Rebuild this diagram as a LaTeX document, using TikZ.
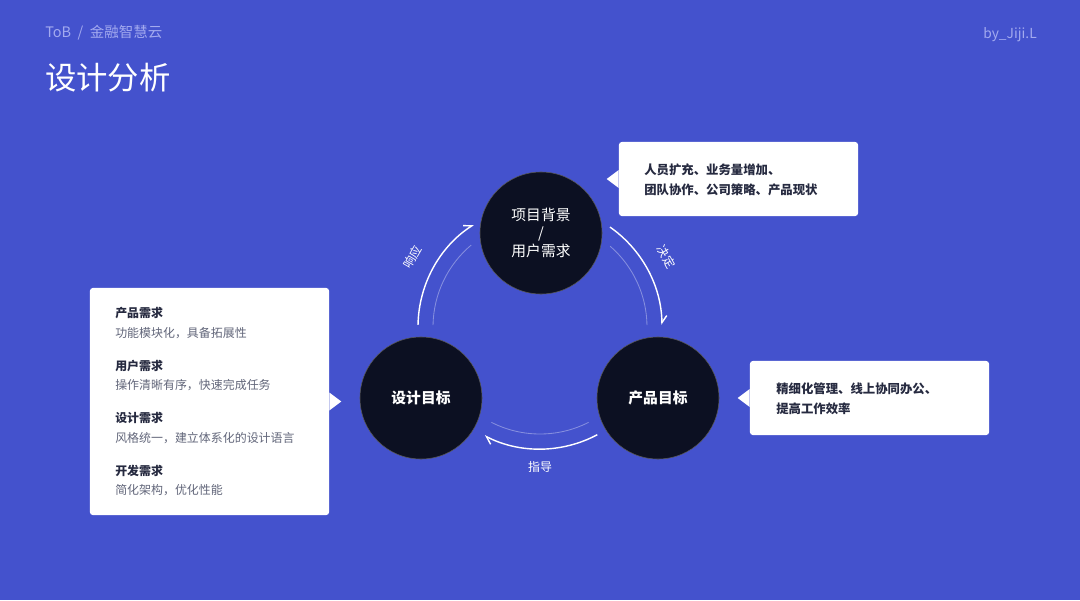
\documentclass[tikz,border=0pt]{standalone}
\usepackage{fontspec}
\setmainfont{Noto Sans CJK SC}
\usepackage{xcolor}
\usetikzlibrary{arrows.meta,positioning}

\definecolor{bgblue}{HTML}{4452CD}
\definecolor{hubdark}{HTML}{0C1022}
\definecolor{inkdark}{HTML}{262A40}
\definecolor{inkgray}{HTML}{62667A}
\definecolor{paleblue}{HTML}{A3AAEF}

\begin{document}
\begin{tikzpicture}[
  x=0.025cm, y=-0.025cm,
  every node/.style={inner sep=0pt},
  hub/.style={circle, draw=gray!70!black, line width=0.4pt, fill=hubdark, minimum size=3.05cm, text=white, align=center, font=\fontsize{10.5}{12.8}\selectfont},
  card/.style={fill=white, rounded corners=2pt},
  flow/.style={white, line width=1pt, -{Straight Barb[harpoon, length=5pt, width=7pt]}},
  ghost/.style={white, opacity=0.35, line width=0.6pt},
  tag/.style={text=white, font=\fontsize{8.5}{10}\selectfont},
  head/.style={anchor=west, text=inkdark, font=\fontsize{8.5}{10}\selectfont\bfseries},
  desc/.style={anchor=west, text=inkgray, font=\fontsize{8.5}{10}\selectfont}
]
\fill[bgblue] (0,0) rectangle (1080,600);
\useasboundingbox (0,0) rectangle (1080,600);

% header
\node[anchor=west, text=paleblue, font=\fontsize{10.3}{12}\selectfont] (crumb) at (45,33) {ToB\ \ /\ \ 金融智慧云};
\node[anchor=west, text=white, font=\fontsize{22.3}{26}\selectfont] (title) at (45,78) {设计分析};
\node[anchor=east, text=paleblue, font=\fontsize{9.8}{12}\selectfont] (sign) at (1037,35) {by\_Jiji.L};

% three hubs
\node[hub] (origin) at (541,233) {项目背景\\/\\用户需求};
\node[hub, font=\fontsize{10.5}{12.8}\selectfont\bfseries] (goal) at (421,398) {设计目标};
\node[hub, font=\fontsize{10.5}{12.8}\selectfont\bfseries] (product) at (658,398) {产品目标};

% cycle arcs
\coordinate (ringc) at (540,327);
\draw[ghost] ([shift={(181:107)}]ringc) arc[start angle=181, end angle=230, radius=107];
\draw[ghost] ([shift={(-49:107)}]ringc) arc[start angle=-49, end angle=-1, radius=107];
\draw[ghost] ([shift={(63:107)}]ringc) arc[start angle=63, end angle=117, radius=107];
\draw[flow] ([shift={(181:122)}]ringc) arc[start angle=181, end angle=237, radius=122];
\draw[flow] ([shift={(-55:122)}]ringc) arc[start angle=-55, end angle=-1, radius=122];
\draw[flow] ([shift={(62:122)}]ringc) arc[start angle=62, end angle=117, radius=122];

\node[tag, rotate=60] (respond) at (413,257) {响应};
\node[tag, rotate=-60] (decide) at (666,257) {决定};
\node[tag] (guide) at (540,467) {指导};

% callout cards
\node[card, minimum width=5.975cm, minimum height=1.85cm] (trend) at (738.5,179) {};
\fill[white] (trend.west) ++(0,-9) -- ++(-12,9) -- ++(12,9) -- cycle;
\node[head, align=left, font=\fontsize{8.8}{14.2}\selectfont\bfseries] (trendtxt) at (644,180) {人员扩充、业务量增加、\\团队协作、公司策略、产品现状};

\node[card, minimum width=5.975cm, minimum height=1.85cm] (aim) at (869.5,398) {};
\fill[white] (aim.west) ++(0,-9) -- ++(-12,9) -- ++(12,9) -- cycle;
\node[head, align=left, font=\fontsize{8.8}{14.2}\selectfont\bfseries] (aimtxt) at (776,399) {精细化管理、线上协同办公、\\提高工作效率};

\node[card, minimum width=5.975cm, minimum height=5.675cm] (needs) at (209.5,401.5) {};
\fill[white] (needs.east) ++(0,-9) -- ++(12,9) -- ++(-12,9) -- cycle;
\node[head] (prodneed) at (115,313) {产品需求};
\node[desc] (proddesc) at (115,333) {功能模块化，具备拓展性};
\node[head] (userneed) at (115,366) {用户需求};
\node[desc] (userdesc) at (115,385) {操作清晰有序，快速完成任务};
\node[head] (designneed) at (115,418) {设计需求};
\node[desc] (designdesc) at (115,438) {风格统一，建立体系化的设计语言};
\node[head] (devneed) at (115,471) {开发需求};
\node[desc] (devdesc) at (115,490) {简化架构，优化性能};
\end{tikzpicture}
\end{document}
